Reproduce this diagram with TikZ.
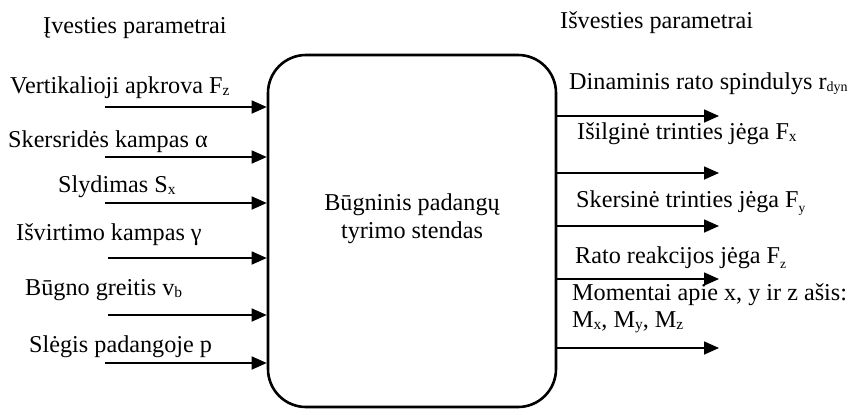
\documentclass[tikz,border=0pt]{standalone}
\usepackage{fontspec}
\setmainfont{Liberation Serif}
\usetikzlibrary{arrows.meta}
\newcommand{\sbs}[1]{\raisebox{-0.18ex}{\fontsize{15.5}{15.5}\selectfont #1}}
\newcommand{\sbt}[1]{\raisebox{-0.18ex}{\fontsize{14}{14}\selectfont #1}}
\newcommand{\sbl}[1]{\raisebox{-0.45ex}{\fontsize{13.5}{13.5}\selectfont #1}}
\begin{document}
\begin{tikzpicture}[x=1pt,y=-1pt,
  lbl/.style={anchor=base west,inner sep=0pt,font=\fontsize{24.2}{28}\selectfont},
  conn/.style={line width=1.6pt,-{Triangle[length=15pt,width=13pt]}},
  stand/.style={draw,line width=2.6pt,rounded corners=38pt,minimum width=288pt,minimum height=352pt,inner sep=0pt}]
\useasboundingbox (0,0) rectangle (849,408);
\node[stand] (box) at (412,231) {};
\node[inner sep=0pt,font=\fontsize{24.2}{28}\selectfont,anchor=base] (title1) at (412,210) {Būgninis padangų};
\node[inner sep=0pt,font=\fontsize{24.2}{28}\selectfont,anchor=base] (title2) at (412,238) {tyrimo stendas};
% titles
\node[lbl] (tin) at (43,33) {Įvesties parametrai};
\node[lbl] (tout) at (560,28) {Išvesties parametrai};
% input labels
\node[lbl] (l1) at (10,93) {Vertikalioji apkrova F\sbs{z}};
\node[lbl] (l2) at (8,147) {Skersridės kampas α};
\node[lbl] (l3) at (58,192) {Slydimas S\sbs{x}};
\node[lbl] (l4) at (16,240) {Išvirtimo kampas γ};
\node[lbl] (l5) at (25,295) {Būgno greitis v\sbs{b}};
\node[lbl] (l6) at (29,352) {Slėgis padangoje p};
% input start points
\coordinate (i1) at (105,107);
\coordinate (i2) at (105,157);
\coordinate (i3) at (105,203);
\coordinate (i4) at (108,258);
\coordinate (i5) at (108,315);
\coordinate (i6) at (105,363);
\foreach \i in {1,...,6} \draw[conn] (i\i) -- (i\i -| box.west);
% output labels
\node[lbl] (r1) at (569,89) {Dinaminis rato spindulys r\sbt{dyn}};
\node[lbl] (r2) at (577,139) {Išilginė trinties jėga F\sbs{x}};
\node[lbl] (r3) at (576,207) {Skersinė trinties jėga F\sbl{y}};
\node[lbl] (r4) at (575,263) {Rato reakcijos jėga F\sbl{z}};
\node[lbl] (r5) at (572,300) {Momentai apie x, y ir z ašis:};
\node[lbl] (r6) at (572,327) {M\sbs{x}, M\sbs{y}, M\sbs{z}};
% output end points
\coordinate (o1) at (719,116);
\coordinate (o2) at (719,173);
\coordinate (o3) at (719,226);
\coordinate (o4) at (719,279);
\coordinate (o5) at (719,348);
\foreach \i in {1,...,5} \draw[conn] (o\i -| box.east) -- (o\i);
\end{tikzpicture}
\end{document}
